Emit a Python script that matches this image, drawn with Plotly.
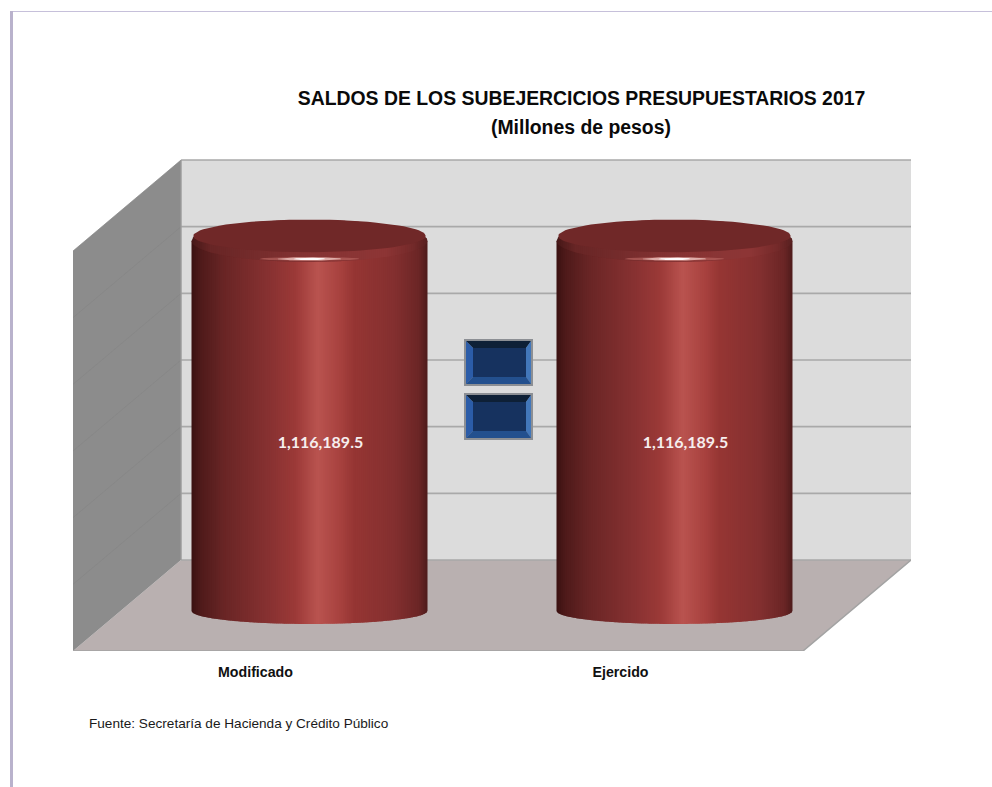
import math
import plotly.graph_objects as go

# ---- data ----
categories = ["Modificado", "Ejercido"]
values = [1116189.5, 1116189.5]
value_labels = ["1,116,189.5", "1,116,189.5"]
grid_values = [0, 200000, 400000, 600000, 800000, 1000000, 1200000]
title_lines = ["SALDOS DE LOS SUBEJERCICIOS PRESUPUESTARIOS 2017", "(Millones de pesos)"]
source_note = "Fuente: Secretaría de Hacienda y Crédito Público"

# ---- page / scale layout ----
W, H = 992, 787
PLOT_L, PLOT_R, PLOT_T, PLOT_B = 73, 911, 150, 651
X_MIN, X_MAX = -0.5, 1.796
Y_MIN, Y_MAX = 0, 1503000
DEPTH_X, DEPTH_Y = 0.296, 273000       # oblique 3-D offset of the back wall
CYL_DEPTH = 0.44
PX_X = (X_MAX - X_MIN) / (PLOT_R - PLOT_L)   # data units per pixel
PX_Y = (Y_MAX - Y_MIN) / (PLOT_B - PLOT_T)
GMAX = grid_values[-1]

# shading across the cylinder (position 0..1, rgb)
STOPS = [(0.00, (58, 18, 18)), (0.035, (78, 26, 26)), (0.14, (106, 38, 38)),
         (0.33, (136, 50, 50)), (0.44, (156, 58, 56)), (0.535, (186, 84, 80)),
         (0.63, (168, 66, 63)), (0.69, (150, 54, 52)), (0.86, (132, 48, 48)),
         (0.965, (107, 38, 38)), (1.00, (78, 28, 28))]
RIM_STOPS = [(0.00, (70, 24, 24)), (0.08, (104, 38, 38)), (0.50, (134, 52, 52)),
             (0.82, (142, 54, 54)), (0.94, (116, 42, 42)), (1.00, (88, 32, 32))]


def shade(t, stops=STOPS):
    for (a, ca), (b, cb) in zip(stops, stops[1:]):
        if t <= b:
            f = (t - a) / (b - a)
            c = [ca[i] + (cb[i] - ca[i]) * f for i in range(3)]
            return "rgb(%d,%d,%d)" % tuple(c)
    return "rgb(%d,%d,%d)" % stops[-1][1]


def px(x):
    return X_MIN + (x - PLOT_L) * PX_X


def py(y):
    return Y_MIN + (PLOT_B - y) * PX_Y


def paper_x(x):
    return (x - PLOT_L) / (PLOT_R - PLOT_L)


def paper_y(y):
    return (PLOT_B - y) / (PLOT_B - PLOT_T)


fig = go.Figure()


def poly(xs, ys, color, opacity=1.0):
    fig.add_trace(go.Scatter(x=list(xs) + [xs[0]], y=list(ys) + [ys[0]], mode="lines", fill="toself",
                             fillcolor=color, line=dict(width=0), opacity=opacity,
                             hoverinfo="skip", showlegend=False))


def line(xs, ys, color, width):
    fig.add_trace(go.Scatter(x=xs, y=ys, mode="lines", line=dict(color=color, width=width),
                             cliponaxis=False, hoverinfo="skip", showlegend=False))


def ellipse(cx, cy, rx, ry, color, opacity=1.0, n=90):
    a = [2 * math.pi * i / n for i in range(n)]
    poly([cx + rx * math.cos(t) for t in a], [cy + ry * math.sin(t) for t in a], color, opacity)


# --- walls ---
xl, xr = X_MIN, X_MIN + 2
poly([xl, xl + DEPTH_X, xr + DEPTH_X, xr], [0, DEPTH_Y, DEPTH_Y, 0], "#b9b0b0")                 # floor
poly([xl + DEPTH_X, xr + DEPTH_X, xr + DEPTH_X, xl + DEPTH_X],
     [DEPTH_Y, DEPTH_Y, DEPTH_Y + GMAX, DEPTH_Y + GMAX], "#dcdcdc")                              # back wall
poly([xl, xl + DEPTH_X, xl + DEPTH_X, xl], [0, DEPTH_Y, DEPTH_Y + GMAX, GMAX], "#8c8c8c")       # side wall
for g in grid_values:
    if 0 < g:
        line([xl, xl + DEPTH_X], [g, g + DEPTH_Y], "#858585", 0.7)
for g in grid_values:
    line([xl + DEPTH_X, xr + DEPTH_X], [g + DEPTH_Y, g + DEPTH_Y], "#a9a9a9", 1.6)
line([xl + DEPTH_X, xl + DEPTH_X], [DEPTH_Y, DEPTH_Y + GMAX], "#9c9c9c", 1.4)
line([xl, xr, xr + DEPTH_X], [0, 0, DEPTH_Y], "#a3a3a3", 1.6)

# --- cylinders ---
RX = 118 * PX_X
RY_TOP, RY_BOT = 21 * PX_Y, 13 * PX_Y
STRIPS = 118
for i, v in enumerate(values):
    cx = i + 0.5 * DEPTH_X
    base = CYL_DEPTH * DEPTH_Y
    top = base + v - 2 * PX_Y       # centre of the rounded top edge
    for s in range(STRIPS):
        t0, t1 = s / STRIPS, min(1, (s + 1.6) / STRIPS)
        u = [t0 + (t1 - t0) * j / 4 for j in range(5)]
        xs = [cx - RX + 2 * RX * a for a in u]
        arc = [math.sqrt(max(0, 1 - (2 * a - 1) ** 2)) for a in u]
        poly(xs + xs[::-1], [top] * 5 + [base - RY_BOT * a for a in arc[::-1]], shade((s + 0.5) / STRIPS))
    # top: bevelled rim then darker cap
    for s in range(STRIPS):
        t0, t1 = s / STRIPS, min(1, (s + 1.6) / STRIPS)
        u = [t0 + (t1 - t0) * j / 4 for j in range(5)]
        xs = [cx - RX + 2 * RX * a for a in u]
        arc = [math.sqrt(max(0, 1 - (2 * a - 1) ** 2)) for a in u]
        poly(xs + xs[::-1],
             [top + RY_TOP * a for a in arc] + [top - RY_TOP * a for a in arc[::-1]],
             shade((s + 0.5) / STRIPS, RIM_STOPS))
    ellipse(cx, top + 5 * PX_Y, RX * 0.985, 16.3 * PX_Y, "#702828")
    # specular glint on the rim
    gl_y = top - 18 * PX_Y
    ellipse(cx, gl_y, 50 * PX_X, 1.9 * PX_Y, "#b5625e", 0.7)
    ellipse(cx, gl_y, 32 * PX_X, 1.6 * PX_Y, "#e8bdb8", 0.85)
    ellipse(cx, gl_y, 16 * PX_X, 1.2 * PX_Y, "#ffffff", 0.95)

# --- value labels ---
fig.add_trace(go.Scatter(
    x=[i + 0.5 * DEPTH_X + 0.03 for i in range(len(values))],
    y=[CYL_DEPTH * DEPTH_Y + v * 0.45 for v in values],
    text=value_labels, mode="text",
    textfont=dict(family="Lato", size=16, color="#f6eeee", weight="bold"),
    hoverinfo="skip", showlegend=False))


# --- empty legend keys (bevelled blue boxes) ---
def key(x0, y0, x1, y1):
    poly([px(x0), px(x1), px(x1), px(x0)], [py(y0), py(y0), py(y1), py(y1)], "#8c8f94")
    a0, b0, a1, b1 = x0 + 2, y0 + 2, x1 - 2, y1 - 2
    i0, j0, i1, j1 = a0 + 7, b0 + 7, a1 - 5, b1 - 7
    quad = lambda pts, c: poly([px(p[0]) for p in pts], [py(p[1]) for p in pts], c)
    quad([(a0, b0), (a1, b0), (i1, j0), (i0, j0)], "#0e2036")
    quad([(a0, b0), (i0, j0), (i0, j1), (a0, b1)], "#2b5ca8")
    quad([(a1, b0), (a1, b1), (i1, j1), (i1, j0)], "#4277ba")
    quad([(a0, b1), (i0, j1), (i1, j1), (a1, b1)], "#23508e")
    quad([(i0, j0), (i1, j0), (i1, j1), (i0, j1)], "#16325f")


key(464, 339, 533, 386)
key(464, 393, 533, 440)

sans = "Liberation Sans, Arial, sans-serif"
fig.update_layout(
    width=W, height=H, paper_bgcolor="white", plot_bgcolor="white",
    margin=dict(l=PLOT_L, r=W - PLOT_R, t=PLOT_T, b=H - PLOT_B, autoexpand=False),
    showlegend=False, hovermode=False,
    title=dict(text=title_lines[0], x=581.5 / W, xanchor="center", y=1 - 98 / H, yanchor="middle",
               font=dict(family=sans, size=19.4, color="#0a0a0a", weight="bold")),
    xaxis=dict(range=[X_MIN, X_MAX], tickmode="array", tickvals=[0, 1], ticktext=categories,
               showgrid=False, zeroline=False, showline=False, ticks="outside", ticklen=8,
               tickcolor="rgba(0,0,0,0)", tickfont=dict(family=sans, size=14.2, color="#111111", weight="bold")),
    yaxis=dict(range=[Y_MIN, Y_MAX], visible=False),
    annotations=[
        dict(text=title_lines[1], xref="paper", yref="paper", x=paper_x(581), y=paper_y(127),
             xanchor="center", yanchor="middle", showarrow=False,
             font=dict(family=sans, size=19.4, color="#0a0a0a", weight="bold")),
        dict(text=source_note, xref="paper", yref="paper", x=paper_x(87), y=paper_y(723),
             xanchor="left", yanchor="middle", showarrow=False,
             font=dict(family=sans, size=13.6, color="#1a1a1a")),
    ],
    shapes=[
        dict(type="line", xref="paper", yref="paper", layer="below",
             x0=paper_x(11), x1=paper_x(W), y0=paper_y(11.5), y1=paper_y(11.5),
             line=dict(color="#c6c0da", width=1)),
        dict(type="line", xref="paper", yref="paper", layer="below",
             x0=paper_x(11.5), x1=paper_x(11.5), y0=paper_y(11), y1=paper_y(H),
             line=dict(color="#b9b2cc", width=3)),
    ],
)
fig.write_html("out.html", config=dict(displayModeBar=False),
               post_script="document.body.style.margin='0';")
